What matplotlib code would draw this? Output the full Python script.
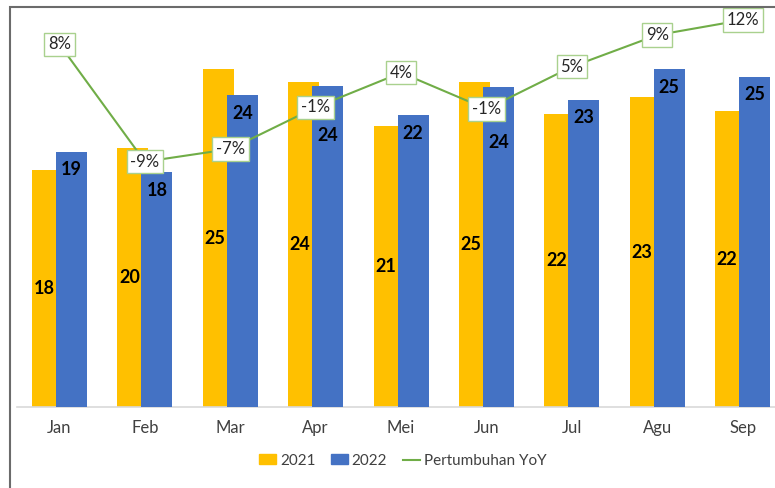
import numpy as np
import matplotlib
matplotlib.use("Agg")
import matplotlib.pyplot as plt
from matplotlib.patches import Rectangle, Patch
from matplotlib.lines import Line2D

plt.rcParams["font.family"] = ["Lato", "DejaVu Sans"]

months = ["Jan", "Feb", "Mar", "Apr", "Mei", "Jun", "Jul", "Agu", "Sep"]
v2021 = [17.64, 19.26, 25.13, 24.19, 20.91, 24.19, 21.83, 23.05, 22.03]
v2022 = [19.00, 17.47, 23.22, 23.89, 21.71, 23.84, 22.85, 25.15, 24.56]
lbl2021 = ["18", "20", "25", "24", "21", "25", "22", "23", "22"]
lbl2022 = ["19", "18", "24", "24", "22", "24", "23", "25", "25"]
yoy = [8.1, -8.67, -6.86, -0.9, 4.04, -1.14, 4.9, 9.43, 11.57]

C21, C22, CL = "#FFC000", "#4472C4", "#70AD47"
TXT = "#404040"
W, OFF = 0.363, 0.1405

fig = plt.figure(figsize=(7.75, 4.88), dpi=100)
ax = fig.add_axes([16.8 / 775, 0.1654, 768.6 / 775, 0.8039])
x = np.arange(len(months))

ax.bar(x - OFF, v2021, W, color=C21, zorder=2)
ax.bar(x + OFF, v2022, W, color=C22, zorder=3)

# labels: 2021 centred in visible part, 2022 near top (two pushed down under the YoY boxes)
drop = {"Apr": 50, "Jun": 56}
for i, m in enumerate(months):
    ax.text(x[i] - W / 2, v2021[i] / 2, lbl2021[i], ha="center", va="center",
            fontsize=13, fontweight="bold", color="black", zorder=5)
    ax.annotate(lbl2022[i], (x[i] + OFF, v2022[i]), xytext=(0, -drop.get(m, 18)),
                textcoords="offset pixels", ha="center", va="center",
                fontsize=13, fontweight="bold", color="black", zorder=5)

ax.set_xlim(-0.5, len(months) - 0.5)
ax.set_ylim(0, 29.17)
ax.set_yticks([])
ax.set_xticks(x)
ax.set_xticklabels(months, fontsize=12, color=TXT)
ax.tick_params(axis="x", length=0, pad=9)
for s in ["top", "right", "left"]:
    ax.spines[s].set_visible(False)
ax.spines["bottom"].set_color("#D9D9D9")
ax.spines["bottom"].set_linewidth(1.2)

ax2 = ax.twinx()
ax2.plot(x, yoy, color=CL, lw=1.5, zorder=4)
ax2.set_ylim(-43.76, 12.29)
ax2.set_yticks([])
for s in ax2.spines.values():
    s.set_visible(False)
for i, v in enumerate(yoy):
    ax2.text(x[i], v, f"{v:.0f}%", ha="center", va="center", fontsize=12, color="#262626",
             zorder=6, clip_on=False,
             bbox=dict(boxstyle="square,pad=0.22", fc="white", ec="#A9D18E", lw=1.0))

handles = [Patch(color=C21, label="2021"), Patch(color=C22, label="2022"),
           Line2D([0], [0], color=CL, lw=1.5, label="Pertumbuhan YoY")]
leg = fig.legend(handles=handles, loc="center", bbox_to_anchor=(402.5 / 775, 27.3 / 488),
                 ncol=3, frameon=False, fontsize=11, handlelength=1.13, handleheight=0.6,
                 handletextpad=0.25, columnspacing=1.0)
for t in leg.get_texts():
    t.set_color(TXT)

# chart border (cropped on right and bottom)
fig.patches.append(Rectangle((10 / 775, -0.1), 1.2, (488 - 7) / 488 + 0.1,
                             transform=fig.transFigure, fill=False, ec="#6B6B6B", lw=1.5))

fig.savefig("out.png", dpi=100)
